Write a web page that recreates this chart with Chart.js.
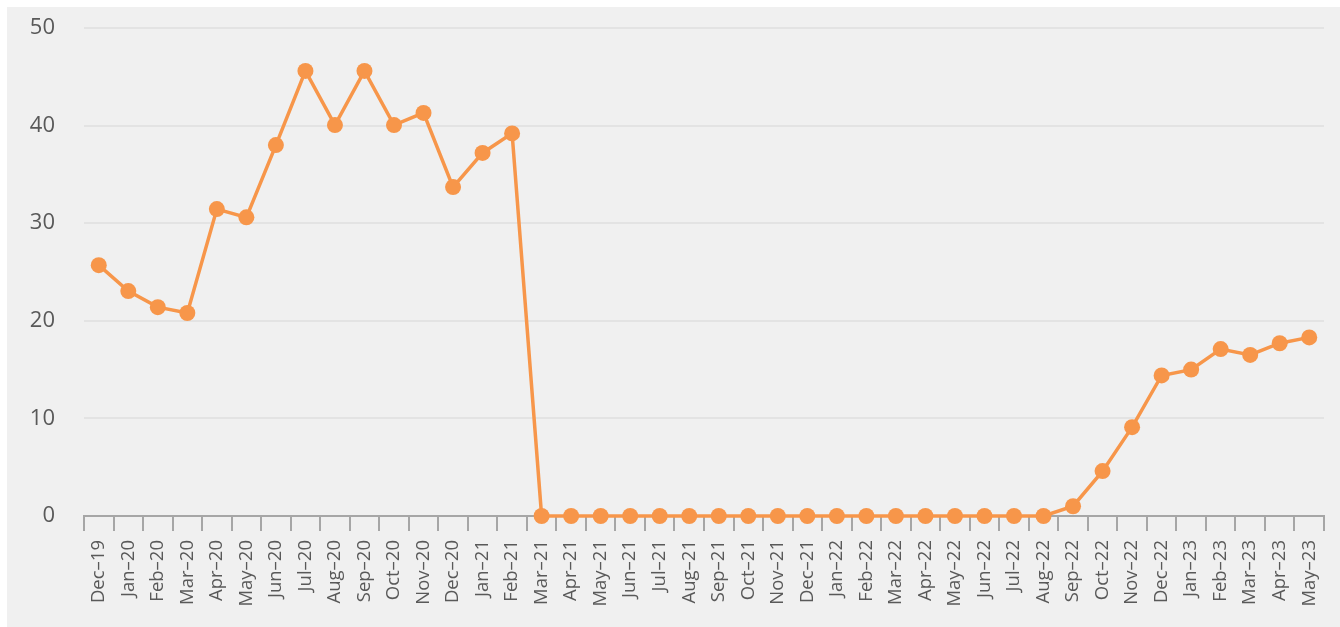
<!DOCTYPE html>
<html>
<head>
<meta charset="utf-8">
<script src="https://cdn.jsdelivr.net/npm/chart.js@4"></script>
<style>
html,body{margin:0;padding:0;background:#ffffff;width:1340px;height:627px;overflow:hidden;}
#wrap{position:absolute;left:7px;top:7px;width:1333px;height:620px;background:#f0f0f0;}
canvas{display:block;}
</style>
</head>
<body>
<div id="wrap"><canvas id="c" width="1325" height="620"></canvas></div>
<script>
const categories = ["Dec–19","Jan–20","Feb–20","Mar–20","Apr–20","May–20","Jun–20","Jul–20","Aug–20","Sep–20","Oct–20","Nov–20","Dec–20","Jan–21","Feb–21","Mar–21","Apr–21","May–21","Jun–21","Jul–21","Aug–21","Sep–21","Oct–21","Nov–21","Dec–21","Jan–22","Feb–22","Mar–22","Apr–22","May–22","Jun–22","Jul–22","Aug–22","Sep–22","Oct–22","Nov–22","Dec–22","Jan–23","Feb–23","Mar–23","Apr–23","May–23"];
const values = [25.7,23.05,21.4,20.8,31.45,30.6,38.0,45.6,40.05,45.6,40.05,41.3,33.7,37.2,39.2,0,0,0,0,0,0,0,0,0,0,0,0,0,0,0,0,0,0,1.0,4.6,9.1,14.4,15.0,17.1,16.5,17.7,18.3];
const yTicks = [0,10,20,30,40,50];

const orange = '#f7964a';
new Chart(document.getElementById('c'), {
  type: 'line',
  data: {
    labels: categories,
    datasets: [{
      data: values,
      borderColor: orange,
      backgroundColor: orange,
      borderWidth: 3.5,
      pointRadius: 8,
      pointHoverRadius: 8,
      pointBorderWidth: 0,
      tension: 0,
      clip: false
    }]
  },
  options: {
    responsive: false,
    animation: false,
    layout: {padding: {top: 21, right: 0, left: 0, bottom: 0}},
    plugins: {legend: {display: false}, tooltip: {enabled: false}},
    scales: {
      x: {
        offset: true,
        grid: {offset: true, drawOnChartArea: false, drawTicks: true, tickLength: 15, color: '#a6a6a6', lineWidth: 2},
        border: {display: true, color: '#a6a6a6', width: 2},
        ticks: {
          autoSkip: false, minRotation: 90, maxRotation: 90, padding: 9,
          color: '#595959', font: {family: '"Open Sans"', size: 18.5}
        },
        afterFit: s => { s.height = 111; s.paddingLeft = 0; s.paddingRight = 0; }
      },
      y: {
        min: 0, max: 50,
        afterBuildTicks: s => { s.ticks = yTicks.map(v => ({value: v})); },
        grid: {color: '#e3e3e3', lineWidth: 2, drawTicks: false},
        border: {display: false},
        ticks: {padding: 29, color: '#595959', font: {family: '"Open Sans"', size: 22}},
        afterFit: s => { s.width = 77; s.paddingTop = 0; s.paddingBottom = 0; }
      }
    }
  }
});
</script>
</body>
</html>
